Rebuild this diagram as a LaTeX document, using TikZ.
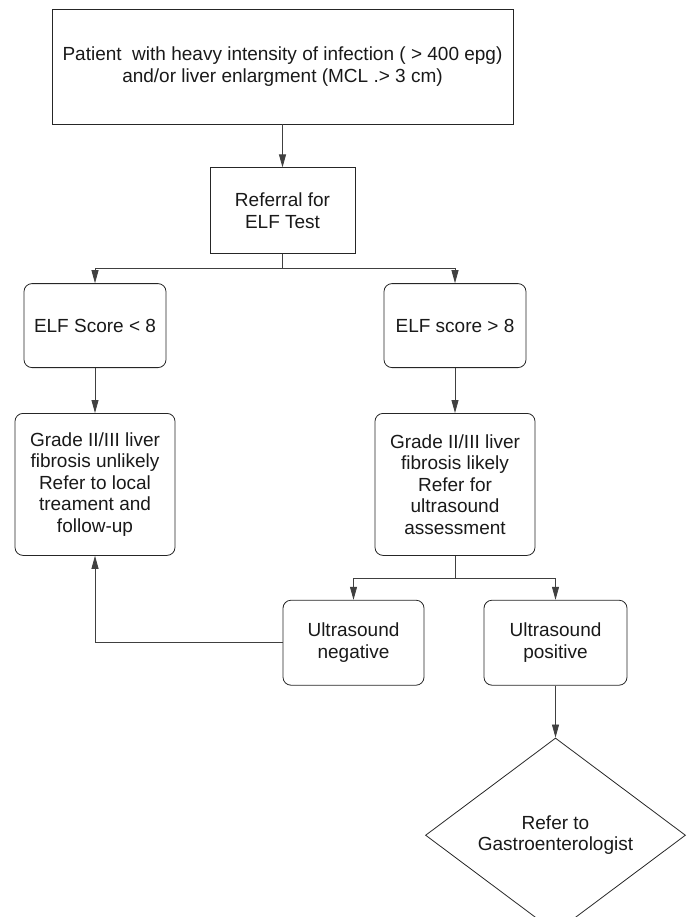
\documentclass[tikz,border=0pt]{standalone}
\usepackage{fontspec}
\setmainfont{Liberation Sans}
\usetikzlibrary{positioning,shapes.geometric,arrows.meta}

\begin{document}
\begin{tikzpicture}[
	font=\fontsize{19}{21.5}\selectfont,
	every node/.style={align=center, text=black!90, inner sep=0pt},
	sqbox/.style={draw=black!85, line width=0.8pt},
	rbox/.style={draw=black!85, line width=0.8pt, rounded corners=8pt},
	gate/.style={draw=black!85, line width=0.8pt, diamond, minimum width=260pt, minimum height=186pt},
	arr/.style={draw=black!75, line width=0.8pt, -{Triangle[length=13pt, width=7pt]}}
]
	\useasboundingbox (0,0) rectangle (688pt,-917pt);

	\node[sqbox, minimum width=461pt, minimum height=115pt]	(patient)	at (282.5pt,-66.5pt)	{Patient~ with heavy intensity of infection ( > 400 epg)\\and/or liver enlargment (MCL .> 3 cm)};
	\node[sqbox, minimum width=145pt, minimum height=86pt, below=43pt of patient]	(refer)	{Referral for\\ELF Test};
	\node[rbox, minimum width=142pt, minimum height=84pt, below=29pt of refer, xshift=-187.5pt]	(elflow)	{ELF Score < 8};
	\node[rbox, minimum width=142pt, minimum height=84pt, below=29pt of refer, xshift=172.5pt]	(elfhigh)	{ELF score > 8};
	\node[rbox, minimum width=160pt, minimum height=142pt, below=45pt of elflow]	(gradelow)	{Grade II/III liver\\fibrosis unlikely\\Refer to local\\treament and\\follow-up};
	\node[rbox, minimum width=160pt, minimum height=142pt, below=45pt of elfhigh]	(gradehigh)	{Grade II/III liver\\fibrosis likely\\Refer for\\ultrasound\\assessment};
	\node[rbox, minimum width=141pt, minimum height=85pt, below=44pt of gradehigh, xshift=-101.5pt]	(usneg)	{Ultrasound\\negative};
	\node[rbox, minimum width=143pt, minimum height=85pt, below=44pt of gradehigh, xshift=100.5pt]	(uspos)	{Ultrasound\\positive};
	\node[gate, below=52pt of uspos]	(gastro)	{Refer to\\Gastroenterologist};

	\draw[arr]	(patient)	--	(refer);
	\draw[arr]	(refer.south)	--	++(0,-14pt)	-|	(elflow.north);
	\draw[arr]	(refer.south)	--	++(0,-14pt)	-|	(elfhigh.north);
	\draw[arr]	(elflow)	--	(gradelow);
	\draw[arr]	(elfhigh)	--	(gradehigh);
	\draw[arr]	(gradehigh.south)	--	++(0,-23pt)	-|	(usneg.north);
	\draw[arr]	(gradehigh.south)	--	++(0,-23pt)	-|	(uspos.north);
	\draw[arr]	(usneg.west)	-|	(gradelow.south);
	\draw[arr]	(uspos)	--	(gastro);

\end{tikzpicture}
\end{document}
